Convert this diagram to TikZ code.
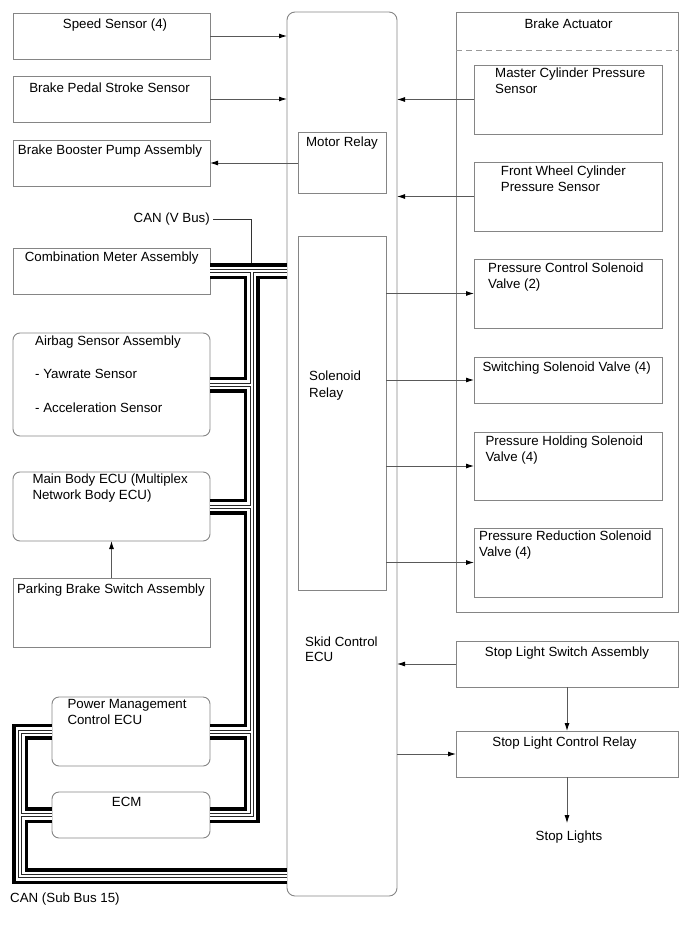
\documentclass[tikz,border=0pt]{standalone}
\usepackage{fontspec}
\setmainfont{Liberation Sans}
\usetikzlibrary{arrows.meta,calc}
\definecolor{bordergray}{gray}{0.52}
\definecolor{linegray}{gray}{0.35}
\definecolor{dashgray}{gray}{0.6}
\begin{document}
\begin{tikzpicture}[x=1pt,y=-1pt,
  font=\fontsize{13.3}{15.5}\selectfont,
  box/.style={draw=bordergray, line width=0.9pt, inner sep=0pt, outer sep=0pt, anchor=north west},
  rbox/.style={box, rounded corners=7pt},
  lbl/.style={inner sep=0pt, anchor=north west, align=left, execute at begin node=\strut},
  clbl/.style={inner sep=0pt, anchor=north, align=center, execute at begin node=\strut},
  arr/.style={draw=linegray, line width=0.9pt, -{Latex[length=8pt,width=5pt,color=black]}},
  lead/.style={draw=black!80, line width=0.9pt},
  canbus/.style={draw=black, line width=16pt, line cap=butt, line join=miter,
    postaction={draw=white, line width=9pt},
    postaction={draw=black!85, line width=4pt},
    postaction={draw=white, line width=2pt}}
]
\useasboundingbox (0,0) rectangle (690,952);

% ---------------- left column ----------------
\node[box, minimum width=197pt, minimum height=46pt] (speed) at (13,13) {};
\node[clbl] (speedt) at (115,17.85) {Speed Sensor (4)};

\node[box, minimum width=197pt, minimum height=46pt] (pedal) at (13,76) {};
\node[clbl] (pedalt) at (109.5,81.85) {Brake Pedal Stroke Sensor};

\node[box, minimum width=197pt, minimum height=46pt] (booster) at (13,140) {};
\node[clbl] (boostert) at (110,143.15) {Brake Booster Pump Assembly};

\node[inner sep=0pt, anchor=north east, execute at begin node=\strut] (canv) at (210,211.15) {CAN (V Bus)};

\node[box, minimum width=197pt, minimum height=46pt] (combo) at (13,248) {};
\node[clbl] (combot) at (111.7,250.85) {Combination Meter Assembly};

\node[rbox, minimum width=197pt, minimum height=103pt] (airbag) at (13,333) {};
\node[lbl] (airbagt) at (35,335.85) {Airbag Sensor Assembly\\[17.8pt]- Yawrate Sensor\\[17.8pt]- Acceleration Sensor};

\node[rbox, minimum width=197pt, minimum height=69pt] (mainbody) at (13,472) {};
\node[lbl] (mainbodyt) at (32.3,474.15) {Main Body ECU (Multiplex\\Network Body ECU)};

\node[box, minimum width=197pt, minimum height=69pt] (parking) at (13,578) {};
\node[clbl] (parkingt) at (111,582.45) {Parking Brake Switch Assembly};

\node[rbox, minimum width=158pt, minimum height=69pt] (pm) at (52,697) {};
\node[lbl] (pmt) at (67.3,699.15) {Power Management\\Control ECU};

\node[rbox, minimum width=158pt, minimum height=46pt] (ecm) at (52,792) {};
\node[clbl] (ecmt) at (126.7,795.15) {ECM};

\node[lbl] (cansub) at (10,891.85) {CAN (Sub Bus 15)};

% ---------------- skid control ECU ----------------
\node[box, rounded corners=8pt, minimum width=110pt, minimum height=884pt] (ecu) at (287,12) {};
\node[box, minimum width=88pt, minimum height=61pt] (motor) at (298,132) {};
\node[clbl] (motort) at (342,135.15) {Motor Relay};
\node[box, minimum width=88pt, minimum height=354pt] (solenoid) at (298,236) {};
\node[lbl] (solenoidt) at (309,371.15) {Solenoid\\[1.5pt]Relay};
\node[lbl] (ecut) at (305,636.45) {Skid Control\\ECU};

% ---------------- brake actuator ----------------
\node[box, minimum width=222pt, minimum height=600pt] (actuator) at (456,12) {};
\node[clbl] (actuatort) at (568.5,17.45) {Brake Actuator};
\coordinate (dashy) at (0,50.7);
\draw[dashgray, line width=0.9pt, dash pattern=on 6pt off 4pt] (actuator.west |- dashy) -- (actuator.east |- dashy);

\node[box, minimum width=188pt, minimum height=69pt] (mcps) at (474,65) {};
\node[lbl] (mcpst) at (495,68.15) {Master Cylinder Pressure\\Sensor};
\node[box, minimum width=188pt, minimum height=69pt] (fwcps) at (474,162) {};
\node[lbl] (fwcpst) at (500.7,165.85) {Front Wheel Cylinder\\Pressure Sensor};
\node[box, minimum width=188pt, minimum height=69pt] (pcsv) at (474,259) {};
\node[lbl] (pcsvt) at (488,263.15) {Pressure Control Solenoid\\Valve (2)};
\node[box, minimum width=188pt, minimum height=46pt] (ssv) at (474,357) {};
\node[lbl] (ssvt) at (482.3,360.85) {Switching Solenoid Valve (4)};
\node[box, minimum width=188pt, minimum height=68pt] (phsv) at (474,432) {};
\node[lbl] (phsvt) at (485.3,435.85) {Pressure Holding Solenoid\\Valve (4)};
\node[box, minimum width=188pt, minimum height=69pt] (prsv) at (474,528) {};
\node[lbl] (prsvt) at (479,530.85) {Pressure Reduction Solenoid\\Valve (4)};

% ---------------- stop light ----------------
\node[box, minimum width=222pt, minimum height=46pt] (sls) at (456,641) {};
\node[clbl] (slst) at (567,645.85) {Stop Light Switch Assembly};
\node[box, minimum width=222pt, minimum height=46pt] (slcr) at (456,731) {};
\node[clbl] (slcrt) at (564.5,735.15) {Stop Light Control Relay};
\node[clbl] (lights) at (569,829.15) {Stop Lights};

% ---------------- arrows ----------------
\draw[arr] (speed.east) -- (speed.east -| ecu.west);
\draw[arr] (pedal.east) -- (pedal.east -| ecu.west);
\draw[arr] (motor.west |- booster.east) -- (booster.east);
\draw[arr] (parking.north) -- (mainbody.south);
\draw[arr] (mcps.west) -- (mcps.west -| ecu.east);
\draw[arr] (fwcps.west) -- (fwcps.west -| ecu.east);
\draw[arr] (solenoid.east |- pcsv.west) -- (pcsv.west);
\draw[arr] (solenoid.east |- ssv.west) -- (ssv.west);
\draw[arr] (solenoid.east |- phsv.west) -- (phsv.west);
\draw[arr] (solenoid.east |- prsv.west) -- (prsv.west);
\draw[arr] (sls.west) -- (sls.west -| ecu.east);
\draw[arr] (slcr.west -| ecu.east) -- (slcr.west);
\draw[arr] (sls.south) -- (slcr.north);
\draw[arr] (slcr.south) -- ([yshift=6pt]lights.north -| slcr.south);

% ---------------- CAN buses ----------------
\coordinate (vj) at (251.5,271);
\coordinate (sx) at (20,876);
\draw[lead] ([xshift=3pt]canv.east) -- (canv.east -| vj) -- ([yshift=8pt]vj);

\draw[canbus] (combo.east) -- (combo.east -| ecu.west)
  (vj) -- (vj |- ecm.east) -- (ecm.east)
  (airbag.east) -- (airbag.east -| vj)
  (mainbody.east) -- (mainbody.east -| vj)
  (pm.east) -- (pm.east -| vj);

\draw[canbus] (pm.west) -- (pm.west -| sx) -- (sx) -- (sx -| ecu.west)
  (ecm.west) -- (ecm.west -| sx);
\end{tikzpicture}
\end{document}
